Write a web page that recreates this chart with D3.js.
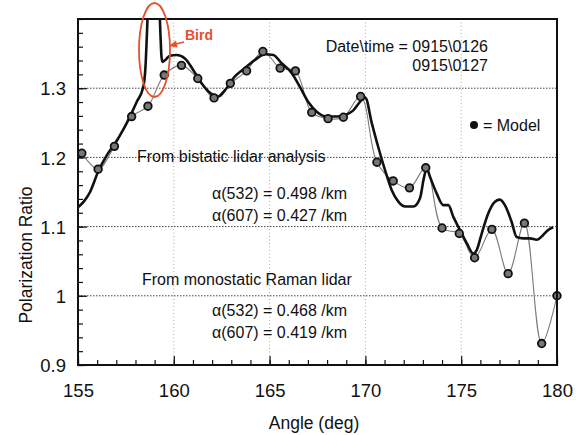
<!DOCTYPE html>
<html><head><meta charset="utf-8">
<script src="https://cdn.jsdelivr.net/npm/d3@7"></script>
<style>
body{margin:0;background:#fff}
text{font-family:"Liberation Sans",Arial,Helvetica,sans-serif;fill:#111}
</style>
</head><body><svg id="c" width="576" height="435"></svg>
<script>
// ---- data ----
const modelAngle = [155.2,156.05,156.9,157.8,158.65,159.5,160.4,161.25,162.1,162.95,163.8,164.65,165.55,166.35,167.2,168.05,168.85,169.75,170.6,171.45,172.3,173.15,174.0,174.9,175.7,176.6,177.45,178.3,179.2,180.0];
const modelValue = [1.206,1.183,1.216,1.259,1.274,1.319,1.333,1.314,1.286,1.307,1.325,1.353,1.329,1.325,1.265,1.256,1.258,1.288,1.193,1.166,1.156,1.185,1.098,1.090,1.055,1.096,1.032,1.105,0.931,1.000];

const bistaticAngle = [155.0,155.3,155.63,156.06,156.5,156.93,157.36,157.71,158.06,158.41,158.52,158.6,158.66,159.24,159.3,159.36,159.42,159.6,159.8,160.15,160.58,161.02,161.45,161.9,162.33,162.67,163.19,163.7,164.24,164.76,165.19,165.63,166.15,166.58,167.02,167.46,167.97,168.5,168.93,169.37,169.81,170.0,170.33,170.67,171.02,171.37,171.72,172.07,172.5,172.85,173.05,173.2,173.37,173.72,174.07,174.33,174.59,174.94,175.29,175.63,175.81,176.07,176.41,176.76,177.02,177.28,177.63,177.89,178.24,178.59,178.94,179.28,179.54,179.8];
const bistaticValue = [1.128,1.136,1.150,1.180,1.203,1.220,1.240,1.259,1.280,1.302,1.33,1.38,1.42,1.42,1.38,1.345,1.338,1.342,1.347,1.348,1.343,1.326,1.307,1.293,1.288,1.297,1.317,1.329,1.341,1.349,1.348,1.336,1.322,1.302,1.280,1.266,1.259,1.259,1.261,1.268,1.283,1.286,1.250,1.215,1.182,1.153,1.136,1.129,1.129,1.141,1.170,1.184,1.172,1.148,1.131,1.131,1.114,1.095,1.076,1.061,1.066,1.090,1.119,1.136,1.139,1.131,1.107,1.085,1.083,1.083,1.081,1.088,1.095,1.099];

const xTicks = [155,160,165,170,175,180];
const xTickLabels = ["155","160","165","170","175","180"];
const yTicks = [0.9,1.0,1.1,1.2,1.3];
const yTickLabels = ["0.9","1","1.1","1.2","1.3"];
const xGrid = [160,165,170,175];
const yGrid = [1.0,1.1,1.2,1.3];

// ---- chart ----
const svg = d3.select("#c");
svg.append("rect").attr("width",576).attr("height",435).attr("fill","#fff");
const L=78,R=557,T=19,B=365;
const x = d3.scaleLinear().domain([155,180]).range([L,R]);
const y = d3.scaleLinear().domain([0.9,1.4]).range([B,T]);

svg.append("defs").append("clipPath").attr("id","clip")
  .append("rect").attr("x",L).attr("y",T).attr("width",R-L).attr("height",B-T);

// grid
svg.append("g").selectAll("line").data(yGrid).join("line")
  .attr("x1",L).attr("x2",R).attr("y1",d=>y(d)).attr("y2",d=>y(d))
  .attr("stroke","#444").attr("stroke-width",1).attr("stroke-dasharray","1.5,1.5");
svg.append("g").selectAll("line").data(xGrid).join("line")
  .attr("y1",T).attr("y2",B).attr("x1",d=>x(d)).attr("x2",d=>x(d))
  .attr("stroke","#aaa").attr("stroke-width",1).attr("stroke-dasharray","1,2.5");

// minor ticks
const xMinor = d3.range(155,181,1);
const yMinor = d3.range(0,26).map(i=>0.9+i*0.02);
const gxm = svg.append("g").attr("transform",`translate(0,${B})`)
  .call(d3.axisBottom(x).tickValues(xMinor).tickSize(-5).tickFormat(""));
const gym = svg.append("g").attr("transform",`translate(${L},0)`)
  .call(d3.axisLeft(y).tickValues(yMinor).tickSize(-5).tickFormat(""));
[gxm,gym].forEach(g=>{g.select(".domain").remove();g.selectAll("line").attr("stroke","#111").attr("stroke-width",1.2);});

// major axes
const gx = svg.append("g").attr("transform",`translate(0,${B})`)
  .call(d3.axisBottom(x).tickValues(xTicks).tickFormat((d,i)=>xTickLabels[i]).tickSize(-9).tickPadding(19));
const gy = svg.append("g").attr("transform",`translate(${L},0)`)
  .call(d3.axisLeft(y).tickValues(yTicks).tickFormat((d,i)=>yTickLabels[i]).tickSize(-9).tickPadding(12));
[gx,gy].forEach(g=>{
  g.select(".domain").remove();
  g.selectAll("line").attr("stroke","#111").attr("stroke-width",1.2);
  g.selectAll("text").attr("font-size",18.5).attr("fill","#111")
   .style("font-family",'"Liberation Sans",Arial,sans-serif');
});
gy.selectAll("text").attr("dy","0.36em");

// model thin line
const thin = d3.line().x((d,i)=>x(modelAngle[i])).y(d=>y(d)).curve(d3.curveCatmullRom.alpha(0.5));
svg.append("path").attr("d",thin(modelValue)).attr("fill","none")
  .attr("stroke","#7a7a7a").attr("stroke-width",1.1).attr("clip-path","url(#clip)");

// bistatic thick line
const thick = d3.line().x((d,i)=>x(bistaticAngle[i])).y(d=>y(d)).curve(d3.curveMonotoneX);
svg.append("path").attr("d",thick(bistaticValue)).attr("fill","none")
  .attr("stroke","#111").attr("stroke-width",2.6).attr("stroke-linejoin","round")
  .attr("clip-path","url(#clip)");

// model dots
svg.append("g").selectAll("circle").data(modelValue).join("circle")
  .attr("cx",(d,i)=>x(modelAngle[i])).attr("cy",d=>y(d)).attr("r",3.8)
  .attr("fill","#777").attr("stroke","#111").attr("stroke-width",1.8);

// frame
svg.append("rect").attr("x",L).attr("y",T).attr("width",R-L).attr("height",B-T)
  .attr("fill","none").attr("stroke","#111").attr("stroke-width",2);

// axis titles
svg.append("text").attr("x",314).attr("y",429).attr("text-anchor","middle")
  .attr("font-size",17.5).text("Angle (deg)");
svg.append("text").attr("transform","translate(32,255) rotate(-90)").attr("text-anchor","middle")
  .attr("font-size",17.5).text("Polarization Ratio");

// annotations
const red = "#e5502c";
svg.append("ellipse").attr("cx",154.5).attr("cy",50).attr("rx",15.5).attr("ry",47)
  .attr("fill","none").attr("stroke",red).attr("stroke-width",1.8);
svg.append("text").attr("x",185).attr("y",40).attr("font-size",14).attr("font-weight","bold")
  .style("fill",red).text("Bird");
svg.append("line").attr("x1",184).attr("y1",42).attr("x2",174).attr("y2",44.5)
  .attr("stroke",red).attr("stroke-width",1.8);
svg.append("path").attr("d","M169,46 L176,40.5 L177.5,47.5 Z").attr("fill",red);

const t1 = [
  {s:"Date\\time = 0915\\0126", x:488, y:52, a:"end"},
  {s:"0915\\0127", x:488, y:71, a:"end"},
  {s:"= Model", x:483, y:131, a:"start"},
  {s:"From bistatic lidar analysis", x:137, y:162, a:"start"},
  {s:"\u03b1(532) = 0.498 /km", x:212, y:199, a:"start"},
  {s:"\u03b1(607) = 0.427 /km", x:212, y:221, a:"start"},
  {s:"From monostatic Raman lidar", x:142, y:285, a:"start"},
  {s:"\u03b1(532) = 0.468 /km", x:212, y:316, a:"start"},
  {s:"\u03b1(607) = 0.419 /km", x:212, y:338, a:"start"}
];
svg.append("g").selectAll("text").data(t1).join("text")
  .attr("x",d=>d.x).attr("y",d=>d.y).attr("text-anchor",d=>d.a)
  .attr("font-size",16).text(d=>d.s);
svg.append("circle").attr("cx",474).attr("cy",125).attr("r",4).attr("fill","#111");
</script>
</body></html>
